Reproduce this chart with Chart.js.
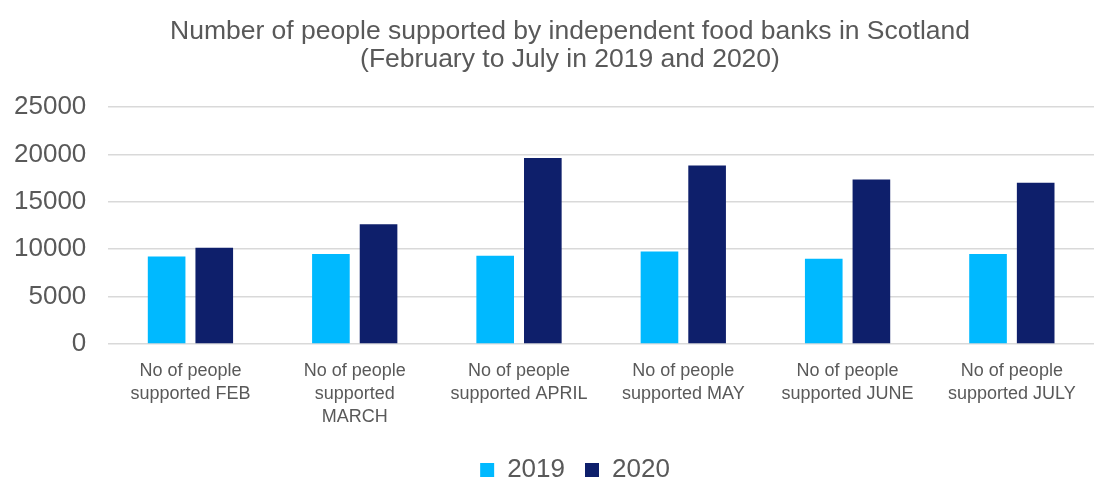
<!DOCTYPE html>
<html>
<head>
<meta charset="utf-8">
<script src="https://cdn.jsdelivr.net/npm/chart.js@4/dist/chart.umd.min.js"></script>
<style>
  html, body { margin: 0; padding: 0; background: #fff; }
  #wrap { width: 1107px; height: 480px; }
</style>
</head>
<body>
<div id="wrap"><canvas id="chart"></canvas></div>
<script>
// chart data
var categories = [
  ["No of people", "supported FEB"],
  ["No of people", "supported", "MARCH"],
  ["No of people", "supported APRIL"],
  ["No of people", "supported MAY"],
  ["No of people", "supported JUNE"],
  ["No of people", "supported JULY"]
];
var values2019 = [9240, 9490, 9310, 9760, 9000, 9490];
var values2020 = [10150, 12630, 19630, 18830, 17360, 17020];
var seriesNames = ["2019", "2020"];
var yTicks = [0, 5000, 10000, 15000, 20000, 25000];

var textColor = '#595959';
var fontFamily = 'Liberation Sans, Arial, sans-serif';

// title and legend sit a bit right of the padded box centre in the original
var nudgeBlocks = {
  id: 'nudgeBlocks',
  afterLayout: function (chart) {
    if (chart.titleBlock) {
      chart.titleBlock.left += 27;
      chart.titleBlock.right += 27;
    }
    if (chart.legend) {
      chart.legend.left += 32;
      chart.legend.right += 32;
    }
  }
};

var ctx = document.getElementById('chart');
var chart = new Chart(ctx, {
  type: 'bar',
  data: {
    labels: categories,
    datasets: [
      {
        label: seriesNames[0],
        data: values2019,
        backgroundColor: '#00b9ff',
        categoryPercentage: 0.58,
        barPercentage: 0.79
      },
      {
        label: seriesNames[1],
        data: values2020,
        backgroundColor: '#0e1f6b',
        categoryPercentage: 0.58,
        barPercentage: 0.79
      }
    ]
  },
  plugins: [nudgeBlocks],
  options: {
    responsive: true,
    maintainAspectRatio: false,
    animation: false,
    layout: {
      padding: { left: -8, right: 13, top: 10, bottom: -13 }
    },
    plugins: {
      title: {
        display: true,
        text: ["Number of people supported by independent food banks in Scotland",
               "(February to July in 2019 and 2020)"],
        color: textColor,
        font: { family: fontFamily, size: 26.5, weight: 'normal', lineHeight: 1.06 },
        padding: { top: 8, bottom: 33 }
      },
      legend: {
        position: 'bottom',
        labels: {
          color: textColor,
          font: { family: fontFamily, size: 26 },
          boxWidth: 14,
          boxHeight: 14,
          padding: 20
        }
      },
      tooltip: { enabled: false }
    },
    scales: {
      x: {
        grid: { display: false },
        border: { display: false },
        ticks: {
          color: textColor,
          font: { family: fontFamily, size: 18, lineHeight: 1.28 },
          maxRotation: 0,
          autoSkip: false,
          padding: 8
        }
      },
      y: {
        min: 0,
        max: 25000,
        afterBuildTicks: function (axis) {
          axis.ticks = yTicks.map(function (v) { return { value: v }; });
        },
        grid: { color: '#d9d9d9', lineWidth: 1.5, drawTicks: false },
        border: { display: false },
        ticks: {
          color: textColor,
          font: { family: fontFamily, size: 26 },
          padding: 22,
          callback: function (value) { return String(value); }
        }
      }
    }
  }
});
</script>
</body>
</html>
